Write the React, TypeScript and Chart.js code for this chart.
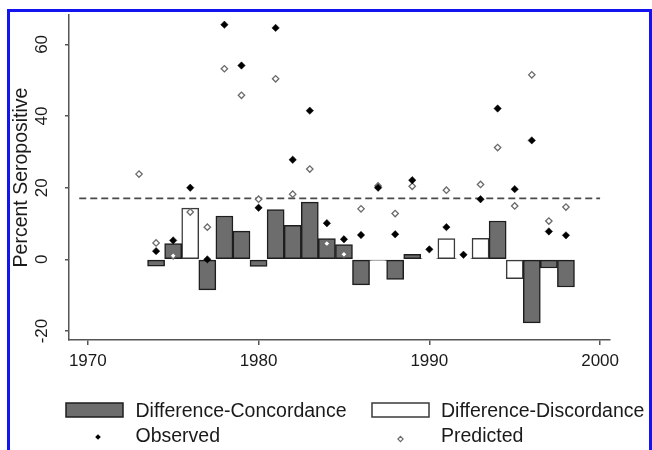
import React, { useEffect, useRef } from "react";
import { Chart, registerables } from "chart.js";

Chart.register(...registerables);

// ---------- data ----------
const observedYears = [1974, 1975, 1976, 1977, 1978, 1979, 1980, 1981, 1982, 1983, 1984, 1985, 1986, 1987, 1988, 1989, 1990, 1991, 1992, 1993, 1994, 1995, 1996, 1997, 1998];
const observedValues = [2.3, 5.3, 20.0, 0.0, 65.5, 54.1, 14.4, 64.6, 27.8, 41.5, 10.1, 5.6, 6.8, 20.0, 7.0, 22.1, 2.8, 9.0, 1.3, 16.8, 42.1, 19.6, 33.2, 7.8, 6.7];

const predictedYears = [1973, 1974, 1975, 1976, 1977, 1978, 1979, 1980, 1981, 1982, 1983, 1984, 1985, 1986, 1987, 1988, 1989, 1991, 1993, 1994, 1995, 1996, 1997, 1998];
const predictedValues = [23.8, 4.6, 1.0, 13.2, 9.0, 53.2, 45.8, 16.8, 50.4, 18.2, 25.2, 4.4, 1.4, 14.1, 20.5, 12.8, 20.4, 19.3, 20.9, 31.2, 14.9, 51.5, 10.7, 14.6];

const concordanceYears = [1974, 1975, 1977, 1978, 1979, 1980, 1981, 1982, 1983, 1984, 1985, 1986, 1987, 1988, 1989, 1994, 1996, 1997, 1998];
const concordanceValues = [-1.9, 4.4, -8.5, 12.1, 7.9, -2.0, 13.9, 9.5, 16.0, 5.8, 4.1, -7.1, -0.3, -5.6, 1.4, 10.7, -17.7, -2.4, -7.7];

const discordanceYears = [1976, 1990, 1991, 1992, 1993, 1995];
const discordanceValues = [14.3, 0.2, 5.8, 0.2, 5.9, -5.4];

const referenceLevel = 17;
const referenceSpan = [1969.5, 2000];

const xTicks = [1970, 1980, 1990, 2000];
const yTicks = [-20, 0, 20, 40, 60];
const yTitle = "Percent Seropositive";
const legendLabels = ["Difference-Concordance", "Difference-Discordance", "Observed", "Predicted"];

// ---------- style ----------
const FONT = "'Liberation Sans', Arial, Helvetica, sans-serif";
const TEXT = "#1a1a1a";
const AXIS = "#555555";
const DARK_FILL = "#6d6d6d";
const DARK_EDGE = "#1e1e1e";
const WHITE_EDGE = "#3a3a3a";
const PRED_EDGE = "#6a6a6a";

const decorPlugin = {
  id: "decor",
  afterDraw(chart: any) {
    const ctx = chart.ctx as CanvasRenderingContext2D;
    const ys = chart.scales.y;
    const ca = chart.chartArea;
    ctx.save();
    ctx.fillStyle = TEXT;
    ctx.textAlign = "center";
    ctx.textBaseline = "middle";
    // rotated y tick labels
    ctx.font = `17px ${FONT}`;
    for (const v of yTicks) {
      const py = ys.getPixelForValue(v);
      ctx.save();
      ctx.translate(42, py);
      ctx.rotate(-Math.PI / 2);
      ctx.fillText(String(v), 0, 0);
      ctx.restore();
    }
    // y title
    ctx.font = `19.5px ${FONT}`;
    ctx.save();
    ctx.translate(22, (ca.top + ca.bottom) / 2);
    ctx.rotate(-Math.PI / 2);
    ctx.fillText(yTitle, 0, 0);
    ctx.restore();

    // legend
    ctx.textAlign = "left";
    ctx.font = `19.5px ${FONT}`;
    const row1 = 411.5;
    const row2 = 437;
    // concordance box
    ctx.fillStyle = DARK_FILL;
    ctx.fillRect(66, 403, 57, 14);
    ctx.strokeStyle = DARK_EDGE;
    ctx.lineWidth = 1.5;
    ctx.strokeRect(66, 403, 57, 14);
    ctx.fillStyle = TEXT;
    ctx.fillText(legendLabels[0], 135.5, row1);
    // discordance box
    ctx.fillStyle = "#ffffff";
    ctx.fillRect(372, 403, 57, 14);
    ctx.strokeStyle = WHITE_EDGE;
    ctx.strokeRect(372, 403, 57, 14);
    ctx.fillStyle = TEXT;
    ctx.fillText(legendLabels[1], 441, row1);
    // observed marker
    ctx.beginPath();
    ctx.moveTo(98, row2 - 2.8);
    ctx.lineTo(100.8, row2);
    ctx.lineTo(98, row2 + 2.8);
    ctx.lineTo(95.2, row2);
    ctx.closePath();
    ctx.fillStyle = "#000";
    ctx.fill();
    ctx.fillStyle = TEXT;
    ctx.fillText(legendLabels[2], 135.5, row2);
    // predicted marker
    const py2 = row2 + 2;
    ctx.beginPath();
    ctx.moveTo(400.5, py2 - 2.6);
    ctx.lineTo(403.1, py2);
    ctx.lineTo(400.5, py2 + 2.6);
    ctx.lineTo(397.9, py2);
    ctx.closePath();
    ctx.fillStyle = "#fff";
    ctx.fill();
    ctx.strokeStyle = PRED_EDGE;
    ctx.lineWidth = 1.2;
    ctx.stroke();
    ctx.fillStyle = TEXT;
    ctx.fillText(legendLabels[3], 441, row2);
    ctx.restore();
  },
};

export default function App() {
  const canvasRef = useRef<HTMLCanvasElement | null>(null);

  useEffect(() => {
    const canvas = canvasRef.current;
    if (!canvas) return;
    const chart = new Chart(canvas, {
      type: "bar",
      data: {
        datasets: [
          {
            type: "scatter",
            label: legendLabels[2],
            data: observedYears.map((x, i) => ({ x, y: observedValues[i] })),
            pointStyle: "rectRot",
            pointRadius: 3.7,
            backgroundColor: "#000000",
            borderColor: "#000000",
            borderWidth: 0.5,
            order: 0,
          } as any,
          {
            type: "scatter",
            label: legendLabels[3],
            data: predictedYears.map((x, i) => ({ x, y: predictedValues[i] })),
            pointStyle: "rectRot",
            pointRadius: 3.2,
            backgroundColor: "#ffffff",
            borderColor: PRED_EDGE,
            borderWidth: 1.3,
            order: 1,
          } as any,
          {
            type: "line",
            label: "reference",
            data: referenceSpan.map((x) => ({ x, y: referenceLevel })),
            borderColor: "#4a4a4a",
            borderWidth: 1.8,
            borderDash: [7, 4],
            pointRadius: 0,
            fill: false,
            order: 2,
          } as any,
          {
            type: "bar",
            label: legendLabels[0],
            data: concordanceYears.map((x, i) => ({ x, y: concordanceValues[i] })),
            backgroundColor: DARK_FILL,
            borderColor: DARK_EDGE,
            borderWidth: 1.5,
            borderSkipped: false,
            grouped: false,
            barPercentage: 1,
            categoryPercentage: 1,
            order: 3,
          } as any,
          {
            type: "bar",
            label: legendLabels[1],
            data: discordanceYears.map((x, i) => ({ x, y: discordanceValues[i] })),
            backgroundColor: "#ffffff",
            borderColor: WHITE_EDGE,
            borderWidth: 1.5,
            borderSkipped: false,
            grouped: false,
            barPercentage: 1,
            categoryPercentage: 1,
            order: 4,
          } as any,
        ],
      },
      options: {
        animation: false,
        responsive: false,
        maintainAspectRatio: false,
        layout: { padding: { left: 0, top: 15, right: 42, bottom: 0 } },
        plugins: {
          legend: { display: false },
          tooltip: { enabled: false },
        },
        scales: {
          x: {
            type: "linear",
            min: 1968.9,
            max: 2000.58,
            offset: false,
            afterBuildTicks: (s: any) => {
              s.ticks = xTicks.map((v) => ({ value: v }));
            },
            afterFit: (s: any) => {
              s.height = 110;
            },
            grid: {
              display: true,
              drawOnChartArea: false,
              drawTicks: true,
              tickLength: 5,
              color: AXIS,
              lineWidth: 1.5,
              offset: false,
            },
            border: { display: true, color: AXIS, width: 1.5 },
            ticks: {
              color: TEXT,
              font: { family: FONT, size: 17 },
              padding: 6,
              maxRotation: 0,
              autoSkip: false,
              callback: (v: any) => String(v),
            },
          },
          y: {
            type: "linear",
            min: -22.5,
            max: 68.2,
            afterBuildTicks: (s: any) => {
              s.ticks = yTicks.map((v) => ({ value: v }));
            },
            afterFit: (s: any) => {
              s.width = 69;
            },
            grid: {
              display: true,
              drawOnChartArea: false,
              drawTicks: true,
              tickLength: 4,
              color: AXIS,
              lineWidth: 1.5,
            },
            border: { display: true, color: AXIS, width: 1.5 },
            ticks: { display: false },
          },
        },
      } as any,
      plugins: [decorPlugin],
    });
    return () => chart.destroy();
  }, []);

  return (
    <div style={{ position: "fixed", left: 0, top: 0, width: 652, height: 450, background: "#ffffff", overflow: "hidden" }}>
      <canvas ref={canvasRef} width={652} height={450} style={{ position: "absolute", left: 0, top: 0, display: "block" }} />
      <div
        style={{
          position: "absolute",
          left: 7,
          top: 9,
          width: 645,
          height: 460,
          boxSizing: "border-box",
          borderTop: "3px solid #1414f0",
          borderLeft: "3px solid #1414f0",
          borderRight: "3px solid #1414f0",
          pointerEvents: "none",
        }}
      />
    </div>
  );
}
